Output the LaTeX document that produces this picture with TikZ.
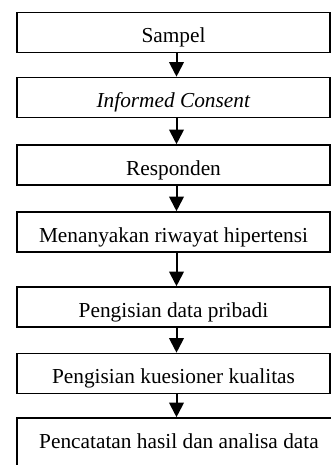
\documentclass[tikz,border=0pt]{standalone}
\usepackage{fontspec}
\setmainfont{Liberation Serif}
\usetikzlibrary{arrows.meta}

\begin{document}
\begin{tikzpicture}[x=0.75pt,y=-0.75pt,
    stepbox/.style={draw,line width=1.2pt,inner sep=0pt,
      minimum width=313*0.75pt,text height=22.5pt,text depth=7.5pt,
      font=\fontsize{16}{19}\selectfont},
    flow/.style={line width=1.5pt,-{Triangle[width=11pt,length=11pt]}}]

    % Frame of the picture (the last box runs off the page)
    \useasboundingbox (0,0) rectangle (331,465);
    \clip (0,0) rectangle (331,465);

    % Column of the arrows
    \coordinate (axis) at (176.5,0);

    % The steps, top to bottom
    \node[stepbox] (s1) at (173.5,32.5)  {Sampel};
    \node[stepbox] (s2) at (173.5,97.5)  {\textit{Informed Consent}};
    \node[stepbox] (s3) at (173.5,165)   {Responden};
    \node[stepbox] (s4) at (173.5,232)   {Menanyakan riwayat hipertensi};
    \node[stepbox] (s5) at (173.5,307)   {Pengisian data pribadi};
    \node[stepbox] (s6) at (173.5,373.5) {Pengisian kuesioner kualitas};
    \node[stepbox,minimum width=324*0.75pt,text depth=24pt]
      (s7) at (179,449) {Pencatatan hasil dan analisa data};

    % Arrows between the steps
    \foreach \a/\b in {s1/s2,s2/s3,s3/s4,s4/s5,s5/s6,s6/s7}
      \draw[flow] (\a.south -| axis) -- (\b.north -| axis);

\end{tikzpicture}
\end{document}
